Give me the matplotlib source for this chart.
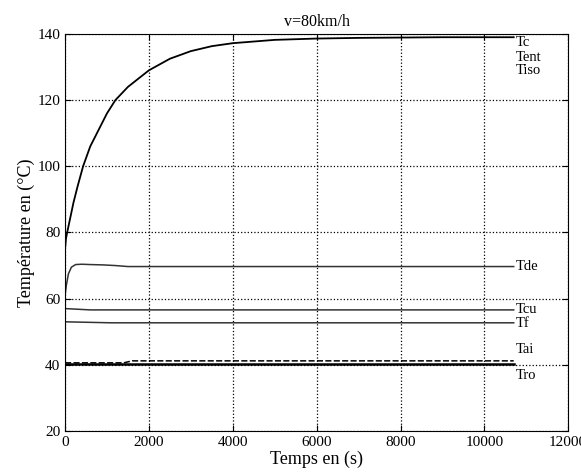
import matplotlib
matplotlib.use("Agg")
import matplotlib.pyplot as plt

plt.rcParams['font.family'] = ['Liberation Serif', 'DejaVu Serif']

# Data
t_tc = [0, 20, 50, 100, 200, 300, 430, 600, 800, 1000, 1200, 1500, 2000, 2500,
        3000, 3500, 4000, 5000, 6000, 7000, 8000, 9000, 10000, 10700]
tc = [75, 78, 80, 83, 89, 94, 100, 106, 111, 116, 120, 124, 129, 132.5,
      134.8, 136.3, 137.2, 138.2, 138.6, 138.8, 138.9, 139, 139, 139]

t_tde = [0, 30, 80, 150, 250, 400, 600, 900, 1200, 1500, 10700]
tde = [61, 64, 67.5, 69.5, 70.3, 70.4, 70.3, 70.2, 70.0, 69.7, 69.7]

t_tcu = [0, 600, 10700]
tcu = [57.0, 56.6, 56.6]

t_tf = [0, 1100, 10700]
tf = [53.0, 52.7, 52.7]

t_tai = [0, 1400, 1600, 10700]
tai = [40.6, 40.6, 41.2, 41.2]

t_tro = [0, 10700]
tro = [40.2, 40.2]

labels = ["Tc", "Tent", "Tiso", "Tde", "Tcu", "Tf", "Tai", "Tro"]
label_y = [137.5, 133.0, 128.8, 69.7, 56.6, 52.5, 44.5, 36.8]

xticks = [0, 2000, 4000, 6000, 8000, 10000, 12000]
yticks = [20, 40, 60, 80, 100, 120, 140]

fig = plt.figure(figsize=(5.81, 4.75), dpi=100)
ax = fig.add_axes([0.112, 0.0926, 0.866, 0.836])

ax.plot(t_tc, tc, color='black', lw=1.3)
ax.plot(t_tde, tde, color='#333333', lw=1.1)
ax.plot(t_tcu, tcu, color='#333333', lw=1.1)
ax.plot(t_tf, tf, color='#333333', lw=1.1)
ax.plot(t_tai, tai, color='black', lw=1.1, ls=(0, (4, 1.5)))
ax.plot(t_tro, tro, color='black', lw=1.8)

for lab, yv in zip(labels, label_y):
    ax.text(10750, yv, lab, fontsize=10.5, va='center', ha='left')

ax.set_xlim(0, 12000)
ax.set_ylim(20, 140)
ax.set_xticks(xticks)
ax.set_yticks(yticks)
ax.grid(True, color='black', ls=':', lw=0.9)
ax.tick_params(direction='in', top=True, right=True, labelsize=11, length=4)
ax.set_xlabel("Temps en (s)", fontsize=13, labelpad=1)
ax.set_ylabel("Température en (°C)", fontsize=13, labelpad=2)
ax.set_title("v=80km/h", fontsize=11.5, pad=6)

fig.savefig("out.png", dpi=100)
